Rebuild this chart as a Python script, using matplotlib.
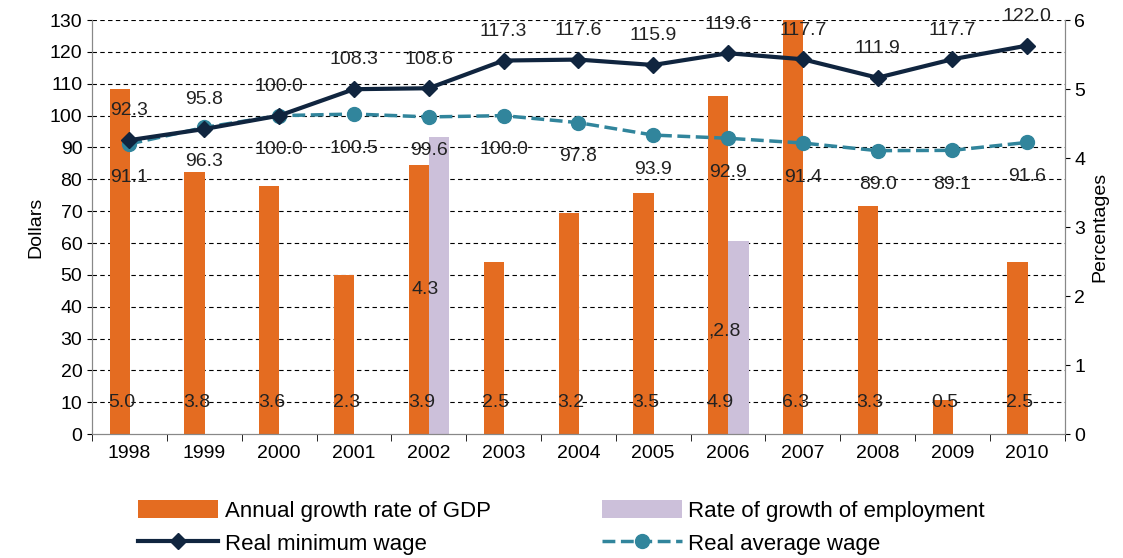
import numpy as np
import matplotlib.pyplot as plt

plt.rcParams['font.family'] = ['Liberation Sans', 'DejaVu Sans']

years = ['1998', '1999', '2000', '2001', '2002', '2003', '2004', '2005', '2006', '2007', '2008', '2009', '2010']
gdp = [5.0, 3.8, 3.6, 2.3, 3.9, 2.5, 3.2, 3.5, 4.9, 6.3, 3.3, 0.5, 2.5]
employment = [0, 0, 0, 0, 4.3, 0, 0, 0, 2.8, 0, 0, 0, 0]
emp_labels = {4: '4.3', 8: ',2.8'}
min_wage = [92.3, 95.8, 100.0, 108.3, 108.6, 117.3, 117.6, 115.9, 119.6, 117.7, 111.9, 117.7, 122.0]
avg_wage = [91.1, 96.3, 100.0, 100.5, 99.6, 100.0, 97.8, 93.9, 92.9, 91.4, 89.0, 89.1, 91.6]

orange = '#E46C21'
lilac = '#CCC0DA'
navy = '#10253F'
teal = '#31859C'

fig = plt.figure(figsize=(11.23, 5.58), dpi=100)
ax = fig.add_axes([0.082, 0.222, 0.866, 0.742])
ax2 = ax.twinx()
x = np.arange(len(years))

ax2.bar(x - 0.13, gdp, 0.27, color=orange, label='Annual growth rate of GDP', zorder=2)
emp_x = [i for i in x if employment[i] > 0]
ax2.bar(np.array(emp_x) + 0.14, [employment[i] for i in emp_x], 0.27, color=lilac,
        label='Rate of growth of employment', zorder=2)
ax2.set_ylim(0, 6)
ax2.set_yticks(range(0, 7))
ax2.set_ylabel('Percentages', fontsize=14)

ax.set_ylim(0, 130)
ax.set_yticks(range(0, 131, 10))
ax.set_ylabel('Dollars', fontsize=14)
ax.set_zorder(ax2.get_zorder() + 1)
ax.patch.set_visible(False)
for v in range(10, 131, 10):
    ax2.axhline(v * 6 / 130, color='black', ls=(0, (4, 3)), lw=0.8, zorder=1)

ax.plot(x, min_wage, color=navy, lw=3, marker='D', ms=8, label='Real minimum wage', zorder=4)
ax.plot(x, avg_wage, color=teal, lw=2.5, ls='--', marker='o', ms=10, label='Real average wage', zorder=3)

for i in x:
    ax.text(i, min_wage[i] + 6.5, f'{min_wage[i]:.1f}', ha='center', va='bottom', fontsize=14, color='#222222')
    ax.text(i, avg_wage[i] - 8, f'{avg_wage[i]:.1f}', ha='center', va='top', fontsize=14, color='#222222')
    ax.text(i - 0.1, 10, f'{gdp[i]:.1f}', ha='center', va='center', fontsize=14, color='#222222')
for i, lab in emp_labels.items():
    ax2.text(i - 0.05, employment[i] - 2.2 if i == 4 else employment[i] - 1.3, lab,
             ha='center', va='center', fontsize=14, color='#222222')

ax.set_xlim(-0.5, len(years) - 0.5)
ax.set_xticks(x)
ax.set_xticklabels(years)
ax.set_xticks(np.arange(-0.5, len(years), 1), minor=True)
ax.tick_params(axis='x', which='major', length=0, pad=8)
ax.tick_params(axis='x', which='minor', length=5)
for a in (ax, ax2):
    a.tick_params(labelsize=14)
    for s in a.spines.values():
        s.set_color('#888888')
ax.spines['top'].set_visible(False)
ax2.spines['top'].set_visible(False)

h1, l1 = ax2.get_legend_handles_labels()
h2, l2 = ax.get_legend_handles_labels()
handles = [h1[0], h2[0], h1[1], h2[1]]
labels = [l1[0], l2[0], l1[1], l2[1]]
fig.legend(handles, labels, loc='lower center', bbox_to_anchor=(0.5, -0.03), ncol=2,
           frameon=False, fontsize=16, columnspacing=5, handlelength=3.6, handleheight=0.9,
           labelspacing=0.5, handletextpad=0.3)

fig.savefig('out.png')
